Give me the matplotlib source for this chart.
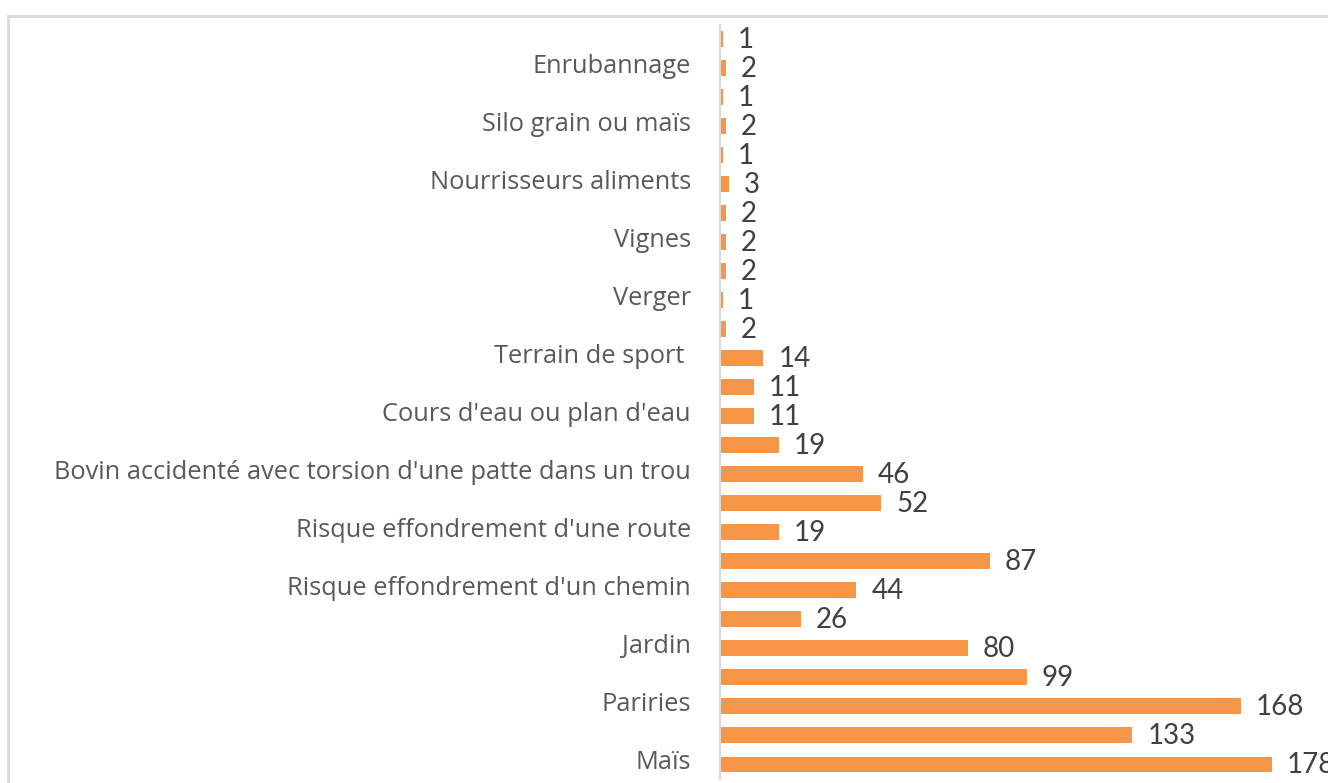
import matplotlib.pyplot as plt
import matplotlib.transforms as mtransforms
from matplotlib.patches import Rectangle

# Données (de bas en haut), Excel n'affiche qu'une étiquette sur deux
categories = ['Maïs', '', 'Pariries', '', 'Jardin', '',
              "Risque effondrement d'un chemin", '', "Risque effondrement d'une route", '',
              "Bovin accidenté avec torsion d'une patte dans un trou", '',
              "Cours d'eau ou plan d'eau", '', 'Terrain de sport ', '',
              'Verger', '', 'Vignes', '', 'Nourrisseurs aliments', '',
              'Silo grain ou maïs', '', 'Enrubannage', '']
valeurs = [178, 133, 168, 99, 80, 26, 44, 87, 19, 52, 46, 19, 11, 11, 14,
           2, 1, 2, 2, 2, 3, 1, 2, 1, 2, 1]

plt.rcParams['font.family'] = ['Lato', 'DejaVu Sans']

fig = plt.figure(figsize=(13.28, 7.83), dpi=100)
W, H = 1328, 783

# cadre gris du graphique
fig.patches.append(Rectangle((8 / W, -0.1), 1.2, 1 - 16 / H + 0.1, transform=fig.transFigure,
                             fill=False, edgecolor='#D9D9D9', linewidth=2))

ax = fig.add_axes([720 / W, 1 - 779 / H, 1 - 720 / W, (779 - 24.5) / H])
pos = range(len(valeurs))
ax.barh(pos, valeurs, height=0.55, color='#F79646')
ax.set_ylim(-0.5, len(valeurs) - 0.5)
ax.set_xlim(0, (W - 720) / 3.1)

for p, v in zip(pos, valeurs):
    ax.annotate(str(v), (v, p), xytext=(15, -1), textcoords='offset pixels',
                ha='left', va='center', fontsize=20, color='#404040', clip_on=False,
                annotation_clip=False)

ax.set_yticks(list(pos))
ax.set_yticklabels(categories, fontsize=18.3, color='#595959', family=['Open Sans', 'DejaVu Sans'])
ax.tick_params(axis='y', length=0, pad=21)
decal = mtransforms.ScaledTranslation(0, 5 / 100, fig.dpi_scale_trans)
for lab in ax.get_yticklabels():
    lab.set_transform(lab.get_transform() + decal)
ax.set_xticks([])
for s in ['top', 'right', 'bottom']:
    ax.spines[s].set_visible(False)
ax.spines['left'].set_color('#D9D9D9')
ax.spines['left'].set_linewidth(1.5)

fig.savefig('out.png', dpi=100)
